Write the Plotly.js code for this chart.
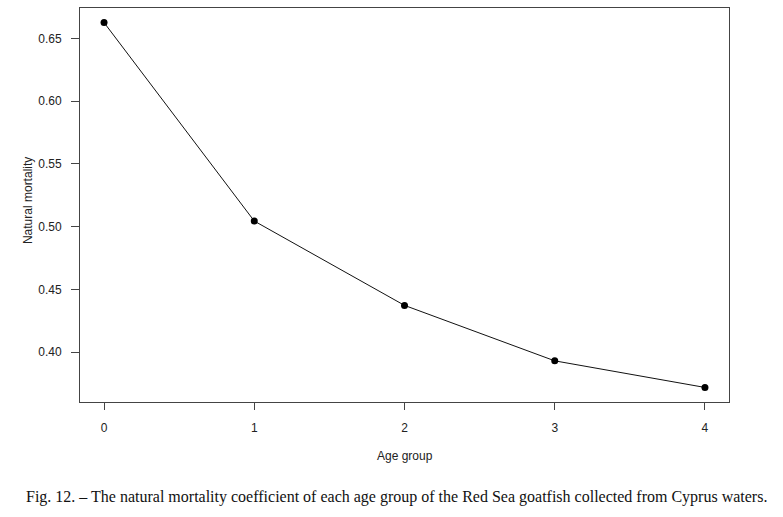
<!DOCTYPE html>
<html>
<head>
<meta charset="utf-8">
<script src="https://cdn.plot.ly/plotly-3.0.1.min.js"></script>
<style>
    html, body { margin: 0; padding: 0; background: #fff; }
    #chart { width: 783px; height: 517px; }
</style>
</head>
<body>
<div id="chart"></div>
<script>
// Natural mortality by age group
const ageGroups = [0, 1, 2, 3, 4]
const mortality = [0.6627, 0.5045, 0.4373, 0.3931, 0.3719]
const yTicks = [0.40, 0.45, 0.50, 0.55, 0.60, 0.65]

const caption = "Fig. 12. \u2013 The natural mortality coefficient of each age group of the Red Sea goatfish collected from Cyprus waters."

const trace = {
    x: ageGroups,
    y: mortality,
    type: "scatter",
    mode: "lines+markers",
    line: { color: "#111", width: 1 },
    marker: { color: "#000", size: 7 },
    hoverinfo: "x+y",
}

const axisCommon = {
    showgrid: false,
    zeroline: false,
    showline: true,
    mirror: true,
    linecolor: "#444",
    linewidth: 1,
    ticks: "outside",
    tickcolor: "#444",
    tickwidth: 1,
    tickfont: { family: "Liberation Sans, Arial, sans-serif", size: 12, color: "#222" },
}

const layout = {
    width: 783,
    height: 517,
    paper_bgcolor: "#fff",
    plot_bgcolor: "#fff",
    showlegend: false,
    margin: { l: 80, r: 54, t: 8, b: 115 },
    xaxis: {
        ...axisCommon,
        range: [-0.16, 4.16],
        tickvals: ageGroups,
        ticklen: 7,
        ticklabelstandoff: 8,
    },
    yaxis: {
        ...axisCommon,
        range: [0.3603, 0.6743],
        tickvals: yTicks,
        tickformat: ".2f",
        ticklen: 8,
        ticklabelstandoff: 7,
    },
    annotations: [
        {
            text: "Age group",
            xref: "paper", yref: "paper",
            x: 0.5, y: -0.138,
            xanchor: "center", yanchor: "middle",
            showarrow: false,
            font: { family: "Liberation Sans, Arial, sans-serif", size: 12, color: "#222" },
        },
        {
            text: "Natural mortality",
            xref: "paper", yref: "paper",
            x: 0, xshift: -52, y: 0.51,
            xanchor: "center", yanchor: "middle",
            textangle: -90,
            showarrow: false,
            font: { family: "Liberation Sans, Arial, sans-serif", size: 12, color: "#222" },
        },
        {
            text: caption,
            xref: "paper", yref: "paper",
            x: 0.5, xshift: -8, y: -0.24,
            xanchor: "center", yanchor: "middle",
            showarrow: false,
            font: { family: "Liberation Serif, Times New Roman, serif", size: 16, color: "#111" },
        },
    ],
}

Plotly.newPlot("chart", [trace], layout, { displayModeBar: false, staticPlot: true })
</script>
</body>
</html>
